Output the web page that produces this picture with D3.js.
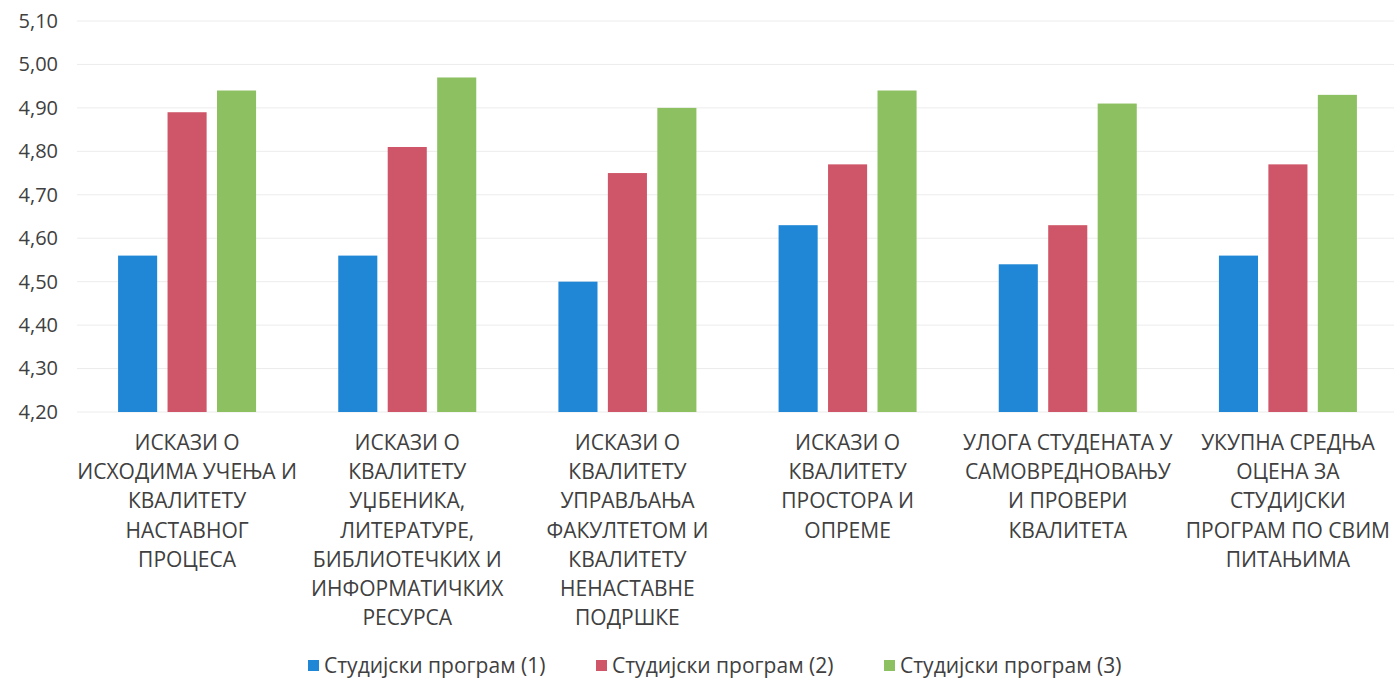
<!DOCTYPE html>
<html>
<head>
<meta charset="utf-8">
<title>Студијски програми</title>
<script src="https://cdn.jsdelivr.net/npm/d3@7"></script>
<style>
  body { margin: 0; background: #fff; }
  text { font-family: "Open Sans", Lato, sans-serif; fill: #404040; }
</style>
</head>
<body>
<svg id="chart" width="1394" height="685"></svg>
<script>
// category labels, already broken into lines like the original
var categories = [
  ["ИСКАЗИ О", "ИСХОДИМА УЧЕЊА И", "КВАЛИТЕТУ", "НАСТАВНОГ", "ПРОЦЕСА"],
  ["ИСКАЗИ О", "КВАЛИТЕТУ", "УЏБЕНИКА,", "ЛИТЕРАТУРЕ,", "БИБЛИОТЕЧКИХ И", "ИНФОРМАТИЧКИХ", "РЕСУРСА"],
  ["ИСКАЗИ О", "КВАЛИТЕТУ", "УПРАВЉАЊА", "ФАКУЛТЕТОМ И", "КВАЛИТЕТУ", "НЕНАСТАВНЕ", "ПОДРШКЕ"],
  ["ИСКАЗИ О", "КВАЛИТЕТУ", "ПРОСТОРА И", "ОПРЕМЕ"],
  ["УЛОГА СТУДЕНАТА У", "САМОВРЕДНОВАЊУ", "И ПРОВЕРИ", "КВАЛИТЕТА"],
  ["УКУПНА СРЕДЊА", "ОЦЕНА ЗА", "СТУДИЈСКИ", "ПРОГРАМ ПО СВИМ", "ПИТАЊИМА"]
];
var seriesNames = ["Студијски програм (1)", "Студијски програм (2)", "Студијски програм (3)"];
var program1 = [4.56, 4.56, 4.50, 4.63, 4.54, 4.56];
var program2 = [4.89, 4.81, 4.75, 4.77, 4.63, 4.77];
var program3 = [4.94, 4.97, 4.90, 4.94, 4.91, 4.93];
var yTicks = [4.2, 4.3, 4.4, 4.5, 4.6, 4.7, 4.8, 4.9, 5.0, 5.1];
var colors = ["#1f87d6", "#cf5668", "#8cc061"];

var values = [program1, program2, program3];
var svg = d3.select("#chart");

var x0 = d3.scaleBand().domain(d3.range(categories.length)).range([77, 1398]);
var bw = x0.bandwidth();
var x1 = d3.scaleBand().domain(d3.range(seriesNames.length))
  .range([bw / 2 - 69, bw / 2 + 69]).paddingInner(0.21);
var y = d3.scaleLinear().domain([4.2, 5.1]).range([412, 21]);

// gridlines
svg.append("g")
  .selectAll("line")
  .data(yTicks)
  .join("line")
  .attr("x1", 77).attr("x2", 1394)
  .attr("y1", d => y(d)).attr("y2", d => y(d))
  .attr("stroke", "#ececec").attr("stroke-width", 1);

// y axis labels
var fmt = d => d3.format(".2f")(d).replace(".", ",");
var yAxis = svg.append("g")
  .attr("transform", "translate(58,0)")
  .call(d3.axisLeft(y).tickValues(yTicks).tickFormat(fmt).tickSize(0).tickPadding(0));
yAxis.select(".domain").remove();
yAxis.selectAll("text").style("font-size", "20px").attr("fill", "#505050")
  .style("font-family", "'Open Sans', Lato, sans-serif");

// bars
var groups = svg.append("g")
  .selectAll("g")
  .data(categories.map((c, i) => i))
  .join("g")
  .attr("transform", i => "translate(" + x0(i) + ",0)");

groups.selectAll("rect")
  .data(i => values.map((s, k) => ({ k: k, v: s[i] })))
  .join("rect")
  .attr("x", d => x1(d.k))
  .attr("width", x1.bandwidth())
  .attr("y", d => y(d.v))
  .attr("height", d => y(4.2) - y(d.v))
  .attr("fill", d => colors[d.k]);

// category labels
groups.append("text")
  .attr("text-anchor", "middle")
  .style("font-size", "21px")
  .selectAll("tspan")
  .data(i => categories[i])
  .join("tspan")
  .attr("x", bw / 2)
  .attr("y", (d, j) => 450 + j * 29.2)
  .text(d => d);

// legend
var legendX = [308, 596, 884];
var legend = svg.append("g")
  .selectAll("g")
  .data(seriesNames)
  .join("g")
  .attr("transform", (d, i) => "translate(" + legendX[i] + ",666)");
legend.append("rect")
  .attr("x", 0).attr("y", -6).attr("width", 11).attr("height", 11)
  .attr("fill", (d, i) => colors[i]);
legend.append("text")
  .attr("x", 16).attr("y", 7)
  .style("font-size", "21px")
  .text(d => d);
</script>
</body>
</html>
